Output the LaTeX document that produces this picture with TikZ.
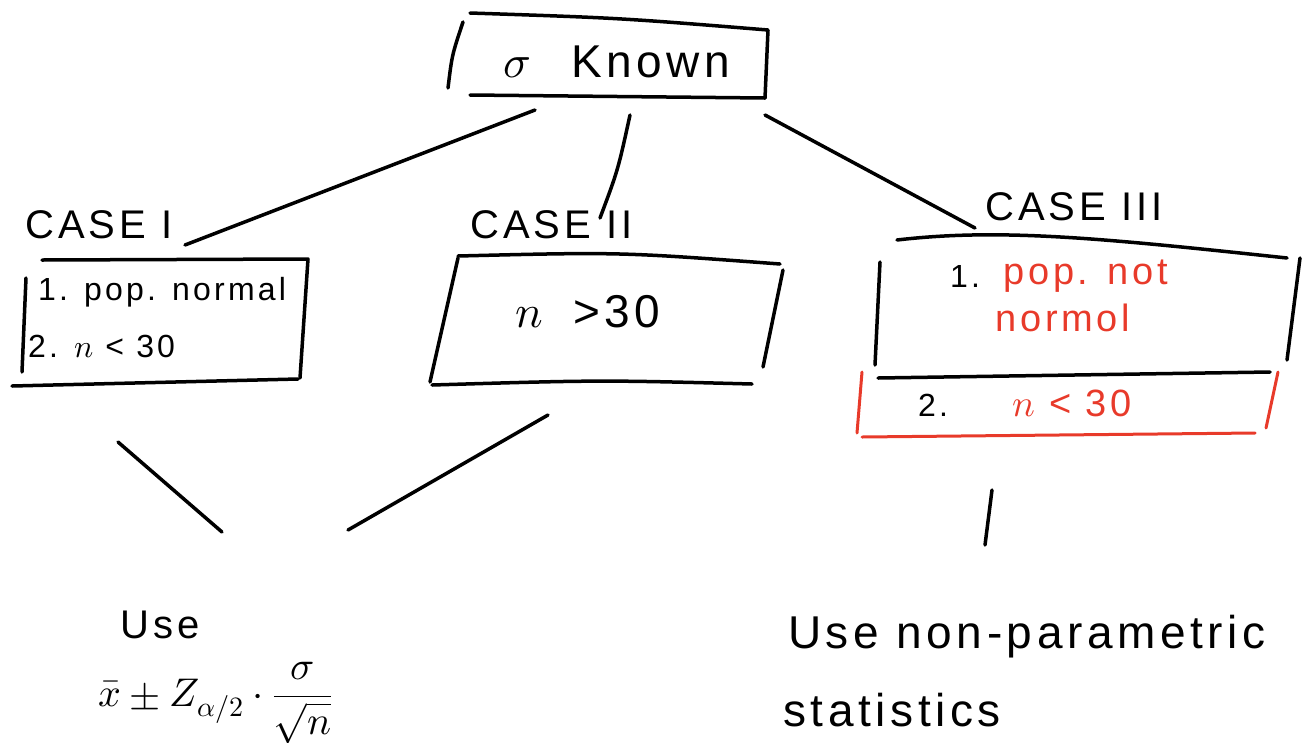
\documentclass[tikz,border=0pt]{standalone}
\usepackage{fontspec}
\usepackage{unicode-math}
\setmainfont{Liberation Sans}
\setmathfont{Latin Modern Math}
\newfontfamily\hand[LetterSpace=10]{Liberation Sans}
\definecolor{inkred}{RGB}{232,58,42}
\begin{document}
\begin{tikzpicture}[x=1pt,y=-1pt,
  ink/.style={line width=3.5pt, line cap=round, line join=round, black},
  redink/.style={line width=3pt, line cap=round, line join=round, inkred},
  big/.style={font=\hand\fontsize{46}{52}\selectfont, inner sep=0pt},
  mid/.style={font=\hand\fontsize{40}{46}\selectfont, inner sep=0pt},
  small/.style={font=\hand\fontsize{32}{38}\selectfont, inner sep=0pt},
  redtext/.style={font=\hand\fontsize{38}{44}\selectfont, inner sep=0pt, text=inkred}]
\useasboundingbox (0,0) rectangle (1305,742);

% root: sigma known, in a hand-drawn frame
\node[big] (root) at (617,62) {$\sigma$\hspace{40pt}Known};
\draw[ink] (470,13) .. controls (620,18) .. (768,30) -- (765,98);
\draw[ink] (470,95) -- (765,98);
\draw[ink] (463,22) .. controls (452,55) .. (448,88);

% branch end points
\coordinate (r1) at (535,110);
\coordinate (r2) at (630,115);
\coordinate (r3) at (765,115);
\coordinate (c1in) at (185,245);
\coordinate (c2in) at (600,218);
\coordinate (c3in) at (975,228);
\draw[ink] (r1) -- (c1in);
\draw[ink] (r2) .. controls (618,170) .. (c2in);
\draw[ink] (r3) -- (c3in);

% case I
\node[mid, anchor=west] (lab1) at (25,225) {CASE I};
\draw[ink] (42,260) -- (308,259) -- (300,378);
\draw[ink] (12,386) -- (298,379);
\draw[ink] (26,278) -- (22,372);
\node[small, anchor=west] (c1a) at (38,292) {1. pop. normal};
\node[small, anchor=west] (c1b) at (28,346) {2. $n$ < 30};

% case II
\node[mid, anchor=west] (lab2) at (470,225) {CASE II};
\draw[ink] (458,256) .. controls (620,252) .. (780,264);
\draw[ink] (458,258) -- (430,382);
\draw[ink] (432,385) .. controls (600,380) .. (752,384);
\draw[ink] (783,270) -- (763,367);
\node[big] (c2a) at (588,312) {$n$\hspace{30pt}>30};

% case III
\node[mid, anchor=west] (lab3) at (985,207) {CASE III};
\draw[ink] (897,240) .. controls (1000,228) and (1100,238) .. (1287,258);
\draw[ink] (880,262) -- (875,365);
\draw[ink] (1300,258) -- (1287,360);
\draw[ink] (878,378) -- (1270,372);
\draw[redink] (862,372) -- (857,433);
\draw[redink] (862,437) -- (1255,433);
\draw[redink] (1278,372) -- (1266,428);
\node[small, anchor=west] (c3n1) at (950,276) {1.};
\node[redtext, anchor=west] (c3a) at (1003,276) {pop. not};
\node[redtext, anchor=west] (c3b) at (995,318) {normol};
\node[small, anchor=west] (c3n2) at (918,405) {2.};
\node[redtext, anchor=west] (c3c) at (1012,403) {$n$ < 30};

% lower branches
\coordinate (d1) at (118,442);
\coordinate (d2) at (548,415);
\coordinate (m1) at (222,532);
\coordinate (m2) at (348,530);
\coordinate (d3) at (992,490);
\coordinate (m3) at (985,545);
\draw[ink] (d1) -- (m1);
\draw[ink] (d2) -- (m2);
\draw[ink] (d3) -- (m3);

% outcomes
\node[mid, anchor=west] (use1) at (120,625) {Use};
\node[font=\fontsize{40}{46}\selectfont, anchor=west, inner sep=0pt] (formula) at (98,703)
  {$\displaystyle \bar{x} \pm Z_{\alpha/2}\cdot\frac{\sigma}{\sqrt{n}}$};
\node[font=\hand\fontsize{46}{52}\selectfont, anchor=west, inner sep=0pt] (use2) at (788,637) {Use non-parametric};
\node[font=\hand\fontsize{46}{52}\selectfont, anchor=west, inner sep=0pt] (stats) at (783,710) {statistics};
\end{tikzpicture}
\end{document}
